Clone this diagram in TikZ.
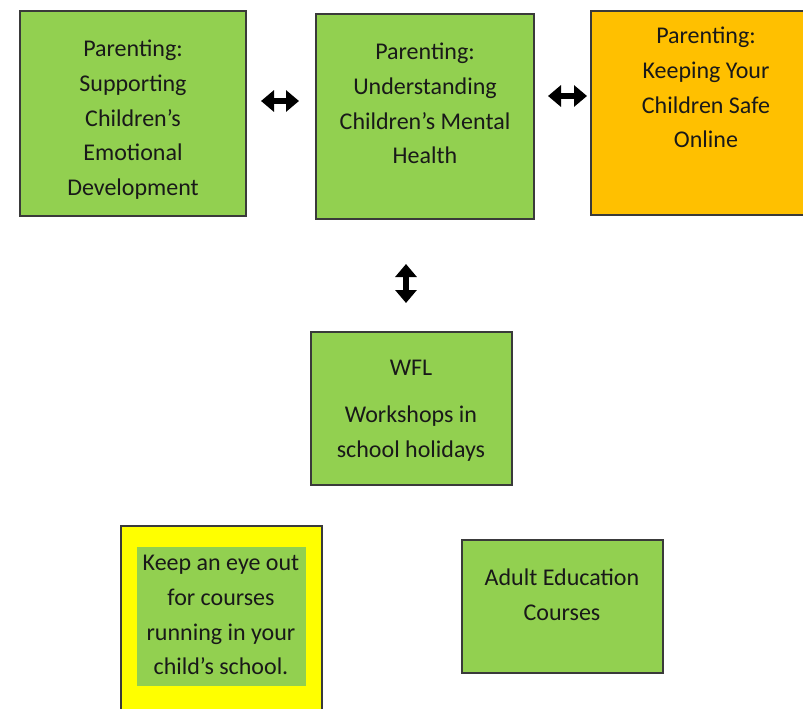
\documentclass[tikz,border=0pt]{standalone}
\usepackage{fontspec}
\setmainfont{Carlito}
\usetikzlibrary{arrows.meta}
\definecolor{boxgreen}{HTML}{92D050}
\definecolor{boxorange}{HTML}{FFC000}
\definecolor{boxyellow}{HTML}{FFFF00}
\definecolor{edge}{HTML}{3A3A3A}
\tikzset{
  box/.style={draw=edge, line width=1.5pt, rectangle, inner sep=0pt},
  plain/.style={rectangle, inner sep=0pt, draw=none},
  txt/.style={anchor=north, align=center, inner sep=0pt, text=black!90,
    font=\fontsize{24}{34.7}\selectfont},
  dbl/.style={line width=6pt, {Triangle[width=21pt,length=13pt]}-{Triangle[width=21pt,length=13pt]}}
}
\begin{document}
\begin{tikzpicture}[x=1pt,y=-1pt]
\useasboundingbox[fill=white] (0,0) rectangle (803,709);
% top row
\node[box, fill=boxgreen, minimum width=226pt, minimum height=205pt] (b1) at (133,113.5) {};
\node[box, fill=boxgreen, minimum width=218pt, minimum height=205pt] (b2) at (425,116.5) {};
\node[box, fill=boxorange, minimum width=219pt, minimum height=204pt] (b3) at (700.5,113) {};
\node[txt] (t1) at (133,40) {Parenting:\\Supporting\\Children’s\\Emotional\\Development};
\node[txt] (t2) at (425,43) {Parenting:\\Understanding\\Children’s Mental\\Health};
\node[txt] (t3) at (706,27) {Parenting:\\Keeping Your\\Children Safe\\Online};
% middle
\node[box, fill=boxgreen, minimum width=201pt, minimum height=153pt] (b4) at (411.5,408.5) {};
\node[txt] (t4) at (411,360) {WFL\\[12.5pt]Workshops in\\school holidays};
% bottom
\node[box, fill=boxyellow, minimum width=201pt, minimum height=194pt] (yb) at (221.5,623) {};
\node[plain, fill=boxgreen, minimum width=169pt, minimum height=139pt] (yi) at (221.5,616.5) {};
\node[txt] (t5) at (221,555) {Keep an eye out\\for courses\\running in your\\child’s school.};
\node[box, fill=boxgreen, minimum width=201pt, minimum height=133pt] (b5) at (562.5,606.5) {};
\node[txt] (t6) at (562,569) {Adult Education\\Courses};
% arrows
\coordinate (a1s) at (261,101);
\coordinate (a1e) at (299,101);
\coordinate (a2s) at (548,96);
\coordinate (a2e) at (587,96);
\coordinate (a3s) at (406,264);
\coordinate (a3e) at (406,303);
\draw[dbl] (a1s) -- (a1e);
\draw[dbl] (a2s) -- (a2e);
\draw[dbl] (a3s) -- (a3e);
\end{tikzpicture}
\end{document}
